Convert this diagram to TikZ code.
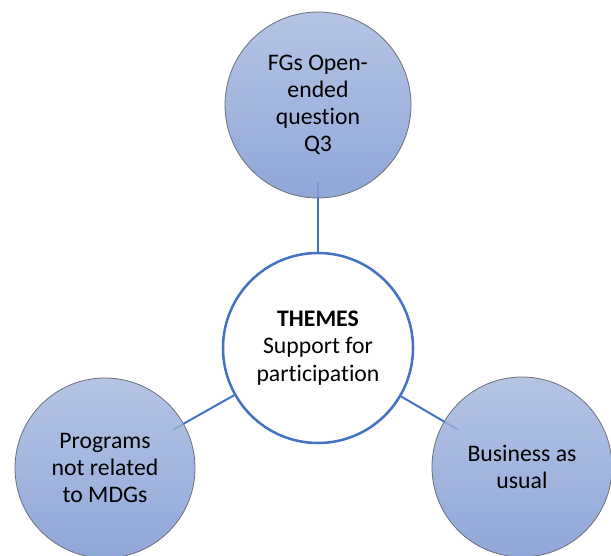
\documentclass[tikz,border=0pt]{standalone}
\usepackage{fontspec}
\setmainfont{Carlito}[Ligatures={NoCommon}]
\usetikzlibrary{calc,backgrounds}
\definecolor{ringblue}{HTML}{4472C4}
\definecolor{sattop}{HTML}{B5C4E4}
\definecolor{satbot}{HTML}{90A7D9}
\definecolor{satedge}{HTML}{6B6F78}
\tikzset{
  sat/.style={circle, draw=satedge, line width=0.6pt, top color=sattop, bottom color=satbot,
    align=center, inner sep=0pt, font=\fontsize{17.8}{20.4}\selectfont, text=black},
  hub/.style={circle, draw=ringblue, line width=1.9pt, fill=white, minimum size=142.5pt,
    align=center, inner sep=0pt, font=\fontsize{17.8}{20.4}\selectfont, text=black},
  conn/.style={draw=ringblue, line width=1.5pt},
  ghost/.style={draw=ringblue, line width=1.5pt, opacity=0.3}
}
\begin{document}
\begin{tikzpicture}[x=0.75pt,y=-0.75pt]
\useasboundingbox (0,0) rectangle (611,556);
\clip (0,0) rectangle (611,556);
\node[hub] (c) at (318,348) {\textbf{THEMES}\\Support for\\participation};
\node[sat, minimum size=139.5pt] (t) at (318,105) {FGs Open-\\ended\\question\\Q3};
\node[sat, minimum size=135pt] (l) at (105,468) {Programs\\not related\\to MDGs};
\node[sat, minimum size=135pt] (r) at (522,467) {Business as\\usual};
\coordinate (te) at ($(t.center)!58pt!(c.center)$);
\coordinate (le) at ($(l.center)!59pt!(c.center)$);
\coordinate (re) at ($(r.center)!56pt!(c.center)$);
\begin{scope}[on background layer]
\draw[conn] (c) -- (t);
\draw[conn] (c) -- (l);
\draw[conn] (c) -- (r);
\end{scope}
\draw[ghost] (t) -- (te);
\draw[ghost] (l) -- (le);
\draw[ghost] (r) -- (re);
\end{tikzpicture}
\end{document}
